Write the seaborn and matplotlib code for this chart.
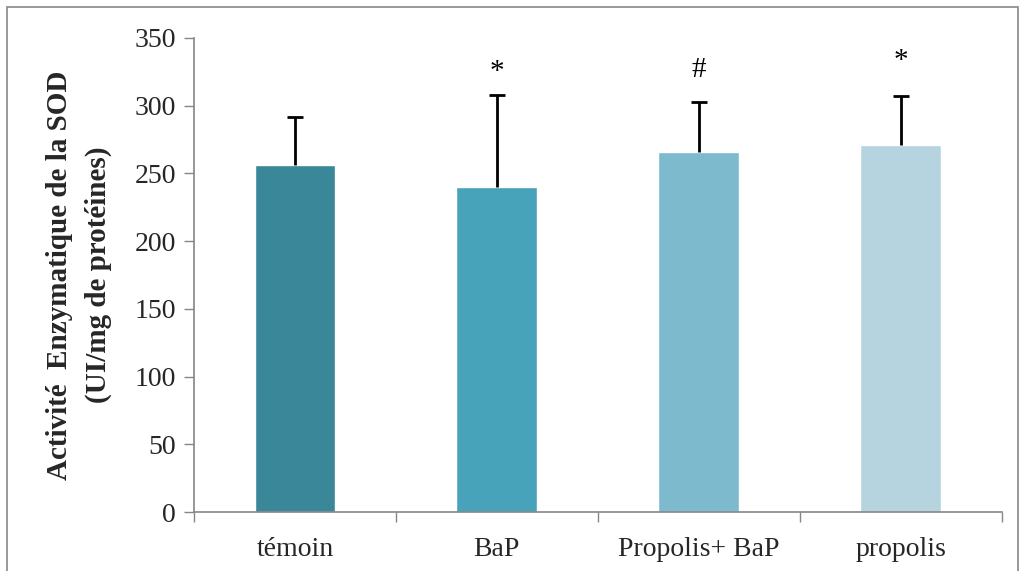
import matplotlib
matplotlib.use("Agg")
import matplotlib.pyplot as plt
import seaborn as sns
import pandas as pd
import numpy as np
from matplotlib.patches import Rectangle

categories = ["témoin", "BaP", "Propolis+ BaP", "propolis"]
means = [256, 240, 266, 271]
sds = [35.5, 68, 37, 36]
marks = ["", "*", "#", "*"]
mark_y = [0, 325, 326, 333]
colors = ["#3A8799", "#47A3BA", "#7DBACE", "#B5D4E0"]

sns.set_theme(style="white")
plt.rcParams['font.family'] = ['Liberation Serif', 'DejaVu Serif']

df = pd.DataFrame({"cat": categories, "val": means})

fig = plt.figure(figsize=(10.21, 5.71), dpi=100)
ax = fig.add_axes([0.190, 0.1033, 0.791, 0.8302])

sns.barplot(data=df, x="cat", y="val", hue="cat", palette=colors, dodge=False,
            width=0.4, legend=False, ax=ax, saturation=1)

x = np.arange(len(categories))
eb = ax.errorbar(x, means, yerr=[np.zeros(len(sds)), sds], fmt="none", ecolor="black",
                 elinewidth=2, capsize=6, capthick=2)
# hide the lower caps (error bars only drawn upward)
eb[1][0].set_visible(False)

for xi, m, my in zip(x, marks, mark_y):
    if m:
        ax.text(xi, my, m, ha="center", va="center", fontsize=21, color="black")

ax.set_xlim(-0.5, 3.5)
ax.set_ylim(0, 350)
ax.set_yticks(np.arange(0, 351, 50))
ax.tick_params(axis="y", labelsize=20, length=7, width=1, color="#868686", direction="out", left=True, pad=6)
ax.set_xticks(x)
ax.set_xticklabels(categories, fontsize=20)
ax.tick_params(axis="x", which="major", length=0, pad=18)
ax.set_xticks(np.arange(-0.5, 3.6, 1), minor=True)
ax.tick_params(axis="x", which="minor", length=7, width=1, color="#868686", direction="out", bottom=True)
ax.set_xlabel("")
ax.set_ylabel("Activité  Enzymatique de la SOD\n(UI/mg de protéines)", fontsize=21,
              fontweight="bold", labelpad=16, linespacing=1.55)

for s in ["top", "right"]:
    ax.spines[s].set_visible(False)
for s in ["left", "bottom"]:
    ax.spines[s].set_color("#868686")
    ax.spines[s].set_linewidth(1.2)

fig.patches.append(Rectangle((0.007, -0.02), 0.99, 1.008, transform=fig.transFigure,
                             fill=False, edgecolor="#888888", linewidth=1.2))

fig.savefig("out.png", dpi=100)
